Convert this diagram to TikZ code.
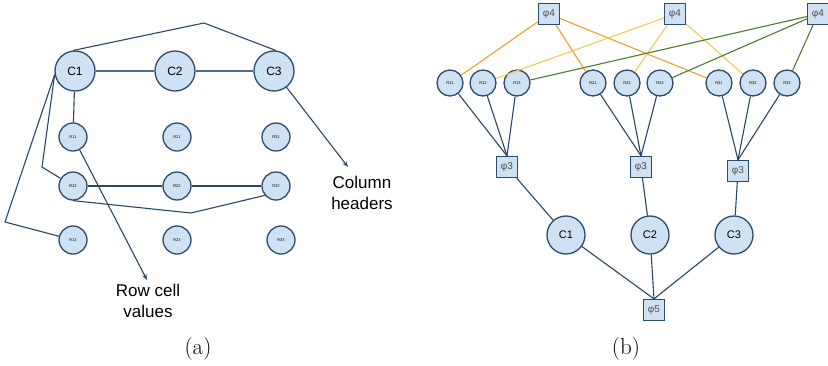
\documentclass[tikz,border=0pt]{standalone}
\usepackage{fontspec}
\newfontfamily\labfont{Liberation Sans}
\usetikzlibrary{arrows.meta}
\definecolor{nodefill}{RGB}{207,226,243}
\definecolor{nodeborder}{RGB}{45,75,110}
\definecolor{edgeblue}{RGB}{40,70,105}
\definecolor{hedge}{RGB}{80,110,140}
\definecolor{orangeedge}{RGB}{238,160,40}
\definecolor{yellowedge}{RGB}{245,200,85}
\definecolor{greenedge}{RGB}{75,125,45}
\definecolor{phigray}{RGB}{80,80,80}
\begin{document}
\begin{tikzpicture}[x=1pt,y=-1pt,
  cbig/.style={circle,draw=nodeborder,fill=nodefill,line width=1.3pt,minimum size=40pt,inner sep=0pt,font=\labfont\fontsize{12}{14}\selectfont},
  cmid/.style={cbig,minimum size=38pt,font=\labfont\fontsize{11}{13}\selectfont},
  rsmall/.style={circle,draw=nodeborder,fill=nodefill,line width=1.3pt,minimum size=28pt,inner sep=0pt,font=\labfont\fontsize{4}{5}\selectfont},
  rtiny/.style={rsmall,minimum size=26pt},
  phibox/.style={rectangle,draw=nodeborder,fill=nodefill,line width=1.3pt,minimum size=21pt,inner sep=0pt,text=phigray,font=\labfont\fontsize{10}{12}\selectfont},
  edge/.style={draw=edgeblue,line width=1.1pt},
  hline/.style={draw=hedge,line width=1.5pt},
  oedge/.style={draw=orangeedge,line width=1.1pt},
  yedge/.style={draw=yellowedge,line width=1.1pt},
  gedge/.style={draw=greenedge,line width=1.1pt},
  arr/.style={edge,-{Stealth[length=6pt,width=4.5pt]}},
  bigtext/.style={font=\labfont\fontsize{17}{21}\selectfont,align=center,inner sep=0pt},
  captext/.style={font=\fontsize{23}{27}\selectfont,inner sep=0pt}
]
\useasboundingbox (0,0) rectangle (828,365);

% ---------------- (a) ----------------
\node[cbig] (c1) at (75,71) {C1};
\node[cbig] (c2) at (175,71) {C2};
\node[cbig] (c3) at (274,71) {C3};

\node[rsmall] (a11) at (73,137) {R11};
\node[rsmall] (a21) at (177,137) {R21};
\node[rsmall] (a31) at (276,137) {R31};
\node[rsmall] (a12) at (73,186) {R12};
\node[rsmall] (a22) at (177,186) {R22};
\node[rsmall] (a32) at (276,186) {R32};
\node[rsmall] (a13) at (73,240) {R13};
\node[rsmall] (a23) at (177,240) {R23};
\node[rsmall] (a33) at (281,240) {R33};

\coordinate (topk) at (204,23);
\coordinate (k12) at (42,167);
\coordinate (k13) at (5,222);
\coordinate (kb) at (191,213);
\coordinate (rowtip) at (147,280);
\coordinate (coltip) at (348,167);

\draw[hline] (c1) -- (c2);
\draw[hline] (c2) -- (c3);
\draw[edge] (c1.95) -- (topk) -- (c3.85);
\draw[edge] (c1) -- (a11);
\draw[edge] (c1.190) -- (k12) -- (a12);
\draw[edge] (c1.190) -- (k13) -- (a13);
\draw[edge] (a12) -- (a22);
\draw[edge] (a22) -- (a32);
\draw[edge] (a12.south) -- (kb) -- (a32.220);
\draw[arr] (a11) -- (rowtip);
\draw[arr] (c3) -- (coltip);

\node[bigtext] (rowlab) at (148,301) {Row cell\\values};
\node[bigtext] (collab) at (362,193) {Column\\headers};
\node[captext] (capa) at (198,349) {(a)};

% ---------------- (b) ----------------
\node[phibox] (p41) at (549,14) {φ4};
\node[phibox] (p42) at (675,14) {φ4};
\node[phibox] (p43) at (818,14) {φ4};

\node[rtiny] (b11) at (450,83) {R11};
\node[rtiny] (b12) at (483,83) {R12};
\node[rtiny] (b13) at (517,83) {R13};
\node[rtiny] (b21) at (593,83) {R21};
\node[rtiny] (b22) at (627,83) {R22};
\node[rtiny] (b23) at (660,83) {R23};
\node[rtiny] (b31) at (719,83) {R31};
\node[rtiny] (b32) at (753,83) {R32};
\node[rtiny] (b33) at (787,83) {R33};

\node[phibox] (p31) at (507,167) {φ3};
\node[phibox] (p32) at (641,167) {φ3};
\node[phibox] (p33) at (738,171) {φ3};

\node[cmid] (d1) at (566,235) {C1};
\node[cmid] (d2) at (650,235) {C2};
\node[cmid] (d3) at (734,235) {C3};

\node[phibox] (p5) at (654,310) {φ5};

\draw[oedge] (p41) -- (b11);
\draw[oedge] (p41) -- (b21);
\draw[oedge] (p41) -- (b31);
\draw[yedge] (p42) -- (b12);
\draw[yedge] (p42) -- (b22);
\draw[yedge] (p42) -- (b32);
\draw[gedge] (p43) -- (b13);
\draw[gedge] (p43) -- (b23);
\draw[gedge] (p43) -- (b33);

\foreach \r in {b11,b12,b13} \draw[edge] (\r) -- (p31.north);
\foreach \r in {b21,b22,b23} \draw[edge] (\r) -- (p32.north);
\foreach \r in {b31,b32,b33} \draw[edge] (\r) -- (p33.north);

\draw[edge] (p31) -- (d1);
\draw[edge] (p32) -- (d2);
\draw[edge] (p33) -- (d3);
\foreach \c in {d1,d2,d3} \draw[edge] (\c) -- (p5.north);

\node[captext] (capb) at (626,349) {(b)};
\end{tikzpicture}
\end{document}
